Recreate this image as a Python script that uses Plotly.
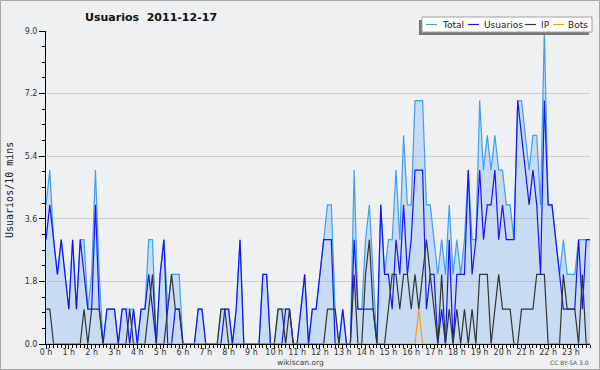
import plotly.graph_objects as go

# ---- data (users per 10-minute slot, 2011-12-17) ----
usuarios = [3,4,3,2,3,2,1,3,1,3,2,1,1,4,1,0,1,1,1,0,1,1,0,1,0,1,1,2,1,0,
            2,3,0,0,1,1,0,0,0,0,1,1,0,0,0,0,0,1,1,0,1,3,0,0,0,0,0,2,2,0,
            0,0,0,1,1,0,0,1,2,0,1,1,2,3,3,3,0,0,1,0,0,3,1,1,1,1,1,0,4,2,
            2,1,3,2,4,2,3,5,5,5,1,2,2,0,1,0,3,0,2,2,2,5,2,3,5,3,4,4,5,3,
            4,3,3,3,7,6,5,4,5,4,2,7,4,4,3,2,1,1,1,1,3,1,3,3]
ip = [1,1,0,0,0,0,0,0,0,0,1,0,1,1,1,0,0,0,0,0,0,0,1,0,0,0,0,1,2,0,
      0,0,1,2,1,1,0,0,0,0,0,0,0,0,0,0,1,1,0,0,0,0,0,0,0,0,0,0,0,0,
      0,1,1,0,1,0,0,0,0,0,0,0,0,0,1,1,1,0,0,0,0,2,0,0,2,3,1,0,0,0,
      1,2,2,1,2,2,1,2,1,2,3,2,1,0,2,0,1,0,1,0,1,0,1,0,2,2,2,0,1,2,
      1,1,1,0,0,1,1,1,1,2,2,2,0,0,0,0,2,1,1,1,0,2,0,0]
bots = [0]*98 + [1] + [0]*45
total = [4,5,3,2,3,2,1,3,1,3,3,1,2,5,2,0,1,1,1,0,1,1,1,1,0,1,1,3,3,0,
         2,3,1,2,2,2,0,0,0,0,1,1,0,0,0,0,1,1,1,0,1,3,0,0,0,0,0,2,2,0,
         0,1,1,1,1,0,0,1,2,0,1,1,2,3,4,4,1,0,1,0,0,5,1,1,3,4,2,0,4,2,
         3,3,5,3,6,4,4,7,7,7,4,4,3,2,3,2,4,2,3,2,3,5,3,3,7,5,6,5,6,5,
         5,4,4,3,7,7,6,5,6,6,4,9,4,4,3,2,3,2,2,2,3,3,3,3]
slots = list(range(len(total)))

hour_ticks = list(range(0, 144, 6))
hour_labels = [f"{h} h" for h in range(24)]
y_ticks = [0, 1.8, 3.6, 5.4, 7.2, 9.0]
y_labels = ["0.0", "1.8", "3.6", "5.4", "7.2", "9.0"]

BG = "#eff0f2"
FONT = "DejaVu Sans"

def px(x):
    return (x - 46) / 544.0

def py(y):
    return (344 - y) / 313.0

fig = go.Figure()
fig.add_trace(go.Scatter(x=slots, y=total, mode="lines", name="Total",
                         line=dict(color="#3f9ff2", width=1.2),
                         fill="tozeroy", fillcolor="rgba(60,150,240,0.22)"))
fig.add_trace(go.Scatter(x=slots, y=usuarios, mode="lines", name="Usuarios",
                         line=dict(color="#1414ff", width=1.2)))
fig.add_trace(go.Scatter(x=slots, y=ip, mode="lines", name="IP",
                         line=dict(color="#333333", width=1.2)))
fig.add_trace(go.Scatter(x=slots, y=bots, mode="lines", name="Bots",
                         line=dict(color="#ff9a00", width=1.2)))

shapes = [
    # outer border of the image
    dict(type="rect", xref="paper", yref="paper",
         x0=px(0.5), x1=px(599.5), y0=py(369.5), y1=py(0.5),
         line=dict(color="#a8a8a8", width=1), layer="below"),
    # legend shadow and box
    dict(type="rect", xref="paper", yref="paper",
         x0=px(419), x1=px(589), y0=py(35), y1=py(20),
         fillcolor="#777777", line=dict(width=0), layer="above"),
    dict(type="rect", xref="paper", yref="paper",
         x0=px(422), x1=px(592), y0=py(32), y1=py(17),
         fillcolor="white", line=dict(color="#a0a0a0", width=1), layer="above"),
]
legend_items = [("Total", "#3f9ff2", 426, 440),
                ("Usuarios", "#1414ff", 468, 482),
                ("IP", "#333333", 525, 539),
                ("Bots", "#ff9a00", 553, 566)]
annotations = []
for name, col, lx, tx in legend_items:
    shapes.append(dict(type="line", xref="paper", yref="paper",
                       x0=px(lx), x1=px(lx + 11), y0=py(24.5), y1=py(24.5),
                       line=dict(color=col, width=1.2), layer="above"))
    annotations.append(dict(text=name, xref="paper", yref="paper",
                            x=px(tx), y=py(24.5), xanchor="left", yanchor="middle",
                            showarrow=False, font=dict(family=FONT, size=9, color="#222")))

annotations += [
    dict(text="<b>Usuarios\u00a0\u00a02011-12-17</b>", xref="paper", yref="paper",
         x=px(83), y=py(17), xanchor="left", yanchor="middle", showarrow=False,
         font=dict(family=FONT, size=11, color="#111")),
    dict(text="Usuarios/10 mins", xref="paper", yref="paper", textangle=-90,
         x=px(9), y=py(190), xanchor="center", yanchor="middle", showarrow=False,
         font=dict(family="DejaVu Sans Mono", size=10, color="#222")),
    dict(text="wikiscan.org", xref="paper", yref="paper",
         x=px(300), y=py(362), xanchor="center", yanchor="middle", showarrow=False,
         font=dict(family=FONT, size=7.5, color="#444")),
    dict(text="CC BY-SA 3.0", xref="paper", yref="paper",
         x=px(591), y=py(362), xanchor="right", yanchor="middle", showarrow=False,
         font=dict(family=FONT, size=6, color="#555")),
]

fig.update_layout(
    width=600, height=370,
    margin=dict(l=46, r=10, t=31, b=26),
    paper_bgcolor=BG, plot_bgcolor=BG,
    showlegend=False,
    shapes=shapes, annotations=annotations,
    font=dict(family=FONT, size=8, color="#333"),
)
fig.update_xaxes(range=[0, 143], tickvals=hour_ticks, ticktext=hour_labels,
                 showgrid=False, zeroline=False, showline=True, linecolor="black", linewidth=1,
                 ticks="outside", ticklen=4, tickcolor="black", ticklabelstandoff=-4,
                 minor=dict(dtick=1, tick0=0, ticks="outside", ticklen=3, tickcolor="black", showgrid=False),
                 tickfont=dict(family=FONT, size=8, color="#333"))
fig.update_yaxes(range=[0, 9], tickvals=y_ticks, ticktext=y_labels,
                 showgrid=True, gridcolor="#cdcdcd", gridwidth=1, zeroline=False,
                 showline=True, linecolor="black", linewidth=1,
                 ticks="outside", ticklen=6, tickcolor="black",
                 minor=dict(dtick=0.45, tick0=0, ticks="outside", ticklen=3, tickcolor="black", showgrid=False),
                 tickfont=dict(family=FONT, size=8, color="#333"))

fig.write_html("out.html", config={"displayModeBar": False},
               post_script="document.body.style.margin='0';document.body.style.overflow='hidden';")
